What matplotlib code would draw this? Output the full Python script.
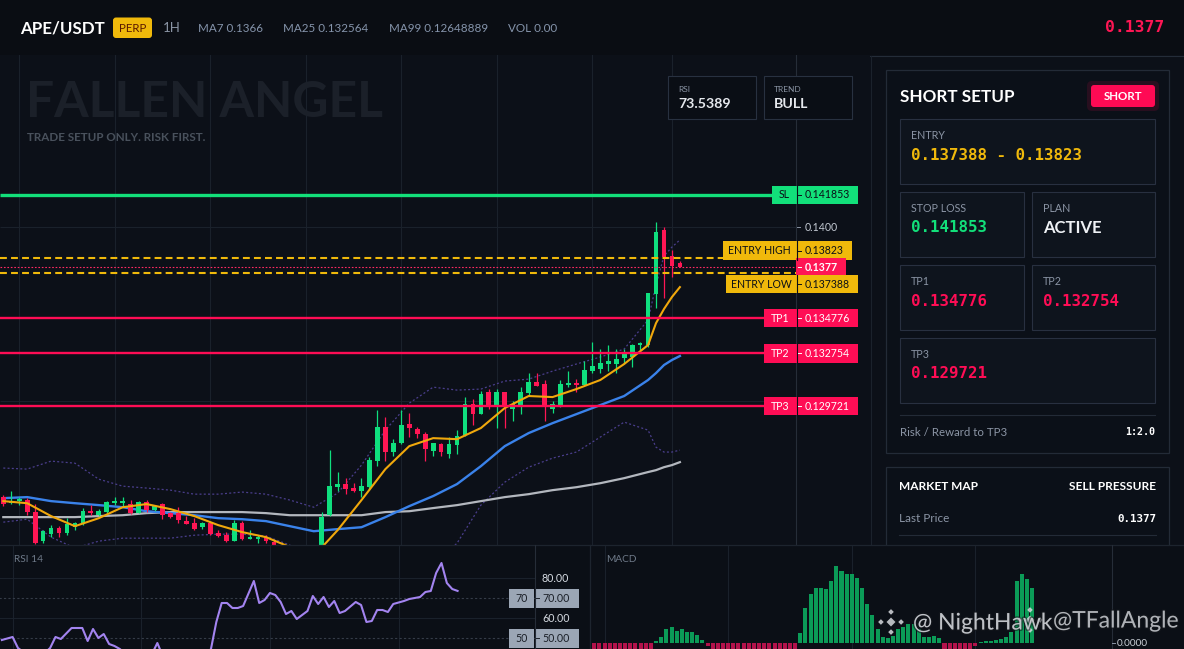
import numpy as np
import matplotlib
matplotlib.use("Agg")
import matplotlib.pyplot as plt
import matplotlib.patheffects as pe
from matplotlib.patches import Rectangle, FancyBboxPatch, RegularPolygon

plt.rcParams["font.family"] = ["Lato", "DejaVu Sans"]
MONO = ["DejaVu Sans Mono"]

# --- Values ---
symbol = "APE/USDT"
timeframe = "1H"
header_stats = ["MA7 0.1366", "MA25 0.132564", "MA99 0.12648889", "VOL 0.00"]
last_price = 0.1377
rsi_now = 73.5389
trend = "BULL"

opens = [0.12449, 0.12414, 0.12426, 0.12432, 0.12363, 0.12196, 0.12236, 0.12271, 0.12242, 0.12276,
         0.12294, 0.12368, 0.12345, 0.12363, 0.12414, 0.12414, 0.12409, 0.12357, 0.12420, 0.12374,
         0.12409, 0.12357, 0.12357, 0.12311, 0.12299, 0.12276, 0.12299, 0.12242, 0.12230, 0.12196,
         0.12299, 0.12207, 0.12207, 0.12219, 0.12190, 0.12133, 0.12087, 0.12052, 0.12098, 0.12064,
         0.12087, 0.12345, 0.12506, 0.12524, 0.12501, 0.12483, 0.12506, 0.12656, 0.12851, 0.12708,
         0.12759, 0.12869, 0.12840, 0.12811, 0.12713, 0.12754, 0.12696, 0.12748, 0.12805, 0.12984,
         0.12926, 0.13053, 0.12966, 0.13053, 0.12955, 0.12978, 0.13047, 0.13110, 0.13099, 0.12955,
         0.12978, 0.13093, 0.13104, 0.13093, 0.13173, 0.13185, 0.13214, 0.13214, 0.13248, 0.13254,
         0.13323, 0.13323, 0.13617, 0.13984, 0.13835, 0.13794]
highs = [0.12460, 0.12483, 0.12449, 0.12443, 0.12409, 0.12259, 0.12288, 0.12282, 0.12328, 0.12305,
         0.12386, 0.12403, 0.12380, 0.12426, 0.12449, 0.12449, 0.12432, 0.12426, 0.12432, 0.12403,
         0.12414, 0.12363, 0.12391, 0.12340, 0.12328, 0.12305, 0.12305, 0.12259, 0.12248, 0.12317,
         0.12311, 0.12259, 0.12230, 0.12230, 0.12202, 0.12144, 0.12110, 0.12133, 0.12116, 0.12156,
         0.12363, 0.12719, 0.12593, 0.12558, 0.12529, 0.12558, 0.12679, 0.12949, 0.12909, 0.12782,
         0.12949, 0.12932, 0.12851, 0.12823, 0.12759, 0.12759, 0.12794, 0.12834, 0.13024, 0.13012,
         0.13058, 0.13070, 0.13070, 0.13053, 0.13001, 0.13081, 0.13162, 0.13162, 0.13122, 0.13001,
         0.13122, 0.13173, 0.13127, 0.13231, 0.13340, 0.13300, 0.13323, 0.13300, 0.13300, 0.13329,
         0.13340, 0.13622, 0.14030, 0.14001, 0.13869, 0.13806]
lows = [0.12397, 0.12409, 0.12403, 0.12345, 0.12179, 0.12184, 0.12219, 0.12219, 0.12230, 0.12259,
        0.12288, 0.12345, 0.12340, 0.12357, 0.12403, 0.12391, 0.12351, 0.12357, 0.12363, 0.12368,
        0.12322, 0.12328, 0.12299, 0.12294, 0.12259, 0.12265, 0.12230, 0.12219, 0.12190, 0.12196,
        0.12202, 0.12207, 0.12184, 0.12184, 0.12110, 0.12058, 0.12029, 0.12029, 0.12041, 0.12047,
        0.12058, 0.12340, 0.12483, 0.12466, 0.12478, 0.12449, 0.12489, 0.12627, 0.12656, 0.12685,
        0.12754, 0.12794, 0.12788, 0.12656, 0.12685, 0.12685, 0.12673, 0.12696, 0.12800, 0.12863,
        0.12926, 0.12955, 0.12846, 0.12846, 0.12886, 0.12926, 0.13030, 0.13087, 0.12886, 0.12932,
        0.12966, 0.13081, 0.13053, 0.13093, 0.13162, 0.13162, 0.13173, 0.13162, 0.13219, 0.13196,
        0.13277, 0.13311, 0.13536, 0.13594, 0.13714, 0.13771]
closes = [0.12409, 0.12426, 0.12437, 0.12363, 0.12184, 0.12253, 0.12271, 0.12242, 0.12294, 0.12299,
          0.12368, 0.12357, 0.12368, 0.12420, 0.12426, 0.12426, 0.12357, 0.12420, 0.12374, 0.12397,
          0.12345, 0.12334, 0.12317, 0.12294, 0.12265, 0.12299, 0.12236, 0.12225, 0.12196, 0.12299,
          0.12207, 0.12219, 0.12219, 0.12196, 0.12133, 0.12087, 0.12052, 0.12098, 0.12064, 0.12116,
          0.12334, 0.12512, 0.12524, 0.12495, 0.12483, 0.12512, 0.12662, 0.12851, 0.12708, 0.12759,
          0.12863, 0.12846, 0.12811, 0.12725, 0.12759, 0.12708, 0.12754, 0.12800, 0.12984, 0.12926,
          0.13041, 0.12966, 0.13053, 0.12972, 0.12984, 0.13053, 0.13110, 0.13087, 0.12978, 0.12984,
          0.13099, 0.13104, 0.13093, 0.13179, 0.13202, 0.13219, 0.13231, 0.13242, 0.13277, 0.13323,
          0.13334, 0.13622, 0.13973, 0.13829, 0.13777, 0.13771]

# moving averages and Bollinger bands, read at these candle indices
ma_idx = [0, 3, 6, 9, 12, 15, 18, 21, 24, 27, 30, 33, 36, 39, 42, 45, 48, 51, 54, 57,
          60, 63, 66, 69, 72, 75, 78, 81, 82, 83, 84, 85]
ma7 = [0.12426, 0.12414, 0.12340, 0.12282, 0.12328, 0.12391, 0.12409, 0.12380, 0.12340, 0.12288,
       0.12248, 0.12219, 0.12162, 0.12110, 0.12259, 0.12432, 0.12610, 0.12742, 0.12788, 0.12782,
       0.12846, 0.12961, 0.13030, 0.13024, 0.13070, 0.13122, 0.13214, 0.13323, 0.13449, 0.13530,
       0.13599, 0.13656]
ma25 = [0.12443, 0.12449, 0.12426, 0.12414, 0.12403, 0.12391, 0.12368, 0.12357, 0.12345, 0.12328,
        0.12322, 0.12311, 0.12282, 0.12253, 0.12265, 0.12276, 0.12334, 0.12397, 0.12455, 0.12524,
        0.12627, 0.12742, 0.12817, 0.12874, 0.12926, 0.12978, 0.13030, 0.13122, 0.13162, 0.13208,
        0.13237, 0.13260]
ma99 = [0.12334, 0.12334, 0.12334, 0.12334, 0.12340, 0.12345, 0.12357, 0.12363, 0.12363, 0.12363,
        0.12363, 0.12357, 0.12345, 0.12345, 0.12345, 0.12345, 0.12363, 0.12368, 0.12386, 0.12403,
        0.12426, 0.12449, 0.12466, 0.12489, 0.12506, 0.12529, 0.12558, 0.12593, 0.12604, 0.12621,
        0.12633, 0.12650]
bb_upper = [0.12616, 0.12610, 0.12656, 0.12644, 0.12552, 0.12512, 0.12501, 0.12489, 0.12466, 0.12466,
            0.12478, 0.12466, 0.12432, 0.12391, 0.12472, 0.12633, 0.12834, 0.12989, 0.13081, 0.13064,
            0.13070, 0.13116, 0.13127, 0.13173, 0.13214, 0.13254, 0.13300, 0.13467, 0.13668, 0.13835,
            0.13886, 0.13927]
bb_lower = [0.12305, 0.12322, 0.12219, 0.12156, 0.12196, 0.12213, 0.12213, 0.12213, 0.12230, 0.12236,
            0.12236, 0.12225, 0.12173, 0.12058, 0.11943, 0.11903, 0.11914, 0.11972, 0.12058, 0.12184,
            0.12403, 0.12535, 0.12621, 0.12673, 0.12708, 0.12794, 0.12880, 0.12834, 0.12736, 0.12708,
            0.12708, 0.12719]

# trade plan
stop_loss = 0.141853
entry_high = 0.13823
entry_low = 0.137388
tp1 = 0.134776
tp2 = 0.132754
tp3 = 0.129721
risk_reward = "1:2.0"
plan_state = "ACTIVE"
price_ticks = [0.13, 0.14]

# RSI 14 (bar index, value)
rsi_bars = [0, 2, 3, 5, 7, 9, 10, 11, 13, 15, 16, 17, 18, 19, 20, 21, 22, 24, 26, 28,
            29, 30, 32, 35, 37, 39, 40, 41, 42, 43, 44, 45, 47, 48, 49, 50, 51, 52, 53, 54,
            55, 57, 58, 59, 60, 61, 62, 63, 64, 66, 67, 68, 69, 70, 71, 72, 73, 75, 76, 78,
            79, 80, 81, 82, 83, 84, 85]
rsi_vals = [49, 50.5, 45, 41, 40, 45, 50.5, 49.5, 55, 55, 48.5, 54.5, 50, 52, 47, 46, 44.5, 40, 38, 42,
            47.5, 41, 37, 34, 38, 44.5, 58, 67.5, 67.5, 65, 65, 66, 78.5, 67.5, 69, 72.5, 71.5, 68, 62, 63.5,
            59.5, 63.5, 71, 67, 70.5, 65.5, 68.5, 62.5, 63.5, 68, 66.5, 58, 58.5, 64, 64, 63, 67, 68.5, 69.5, 70.5,
            73, 73.5, 82.5, 87.5, 77.5, 74.5, 73.54]
rsi_levels = [80, 70, 60, 50]

# MACD histogram, bars -1 .. 85
macd_hist = [0.000028,
             -0.000020, -0.000022, -0.000024, -0.000022, -0.000020, -0.000018, -0.000018, -0.000016,
             -0.000016, -0.000014, -0.000014, -0.000012,
             0.0000046, 0.0000126, 0.0000274, 0.0000314, 0.0000246, 0.0000274, 0.0000226, 0.0000226,
             0.000016, 0.000006,
             -0.0000054,
             -0.000012, -0.000018, -0.000024, -0.000030, -0.000034, -0.000036, -0.000036, -0.000034,
             -0.000032, -0.000030, -0.000028, -0.000026, -0.000024, -0.000020, -0.000018, -0.000016,
             -0.000014,
             0.000020, 0.000070, 0.000098, 0.000110, 0.000110, 0.000108, 0.000124, 0.000154, 0.000144,
             0.000138, 0.000138, 0.000130, 0.000110, 0.000078, 0.000056, 0.000028, 0.000012, 0.000010,
             0.000014, 0.000028, 0.000032, 0.000038, 0.000038, 0.000028, 0.000012, 0.000012, 0.000014,
             0.000010,
             -0.000014, -0.000018, -0.000020, -0.000018, -0.000016, -0.000014,
             -0.0000054,
             0.0000026, 0.000004, 0.0000046, 0.000006, 0.0000086, 0.0000114, 0.0000226, 0.000124,
             0.000138, 0.000129, 0.000111]
macd_bars = list(range(-1, len(macd_hist) - 1))

# --- Colours ---
BG = "#0c1018"
HEADER = "#0a0d13"
PANEL = "#0b0f16"
GRID = "#1a212b"
LINE = "#242c38"
GREEN = "#0fdf7e"
RED = "#ff1654"
SL_GREEN = "#12e07a"
TP_RED = "#ff0d55"
YELLOW = "#f0b90b"
DARK_TXT = "#0b0f17"
GRAY_TXT = "#8b95a5"

# --- Layout (pixels of the 1184x649 screenshot) ---
W, H = 1184, 649
fig = plt.figure(figsize=(W / 100, H / 100), dpi=100)
fig.patch.set_facecolor(BG)


def px_axes(x0, y0, x1, y1, z):
    a = fig.add_axes([x0 / W, 1 - y1 / H, (x1 - x0) / W, (y1 - y0) / H], zorder=z)
    a.set_xticks([])
    a.set_yticks([])
    for s in a.spines.values():
        s.set_visible(False)
    return a


def pixel_layer(z):
    a = fig.add_axes([0, 0, 1, 1], zorder=z)
    a.set_xlim(0, W)
    a.set_ylim(H, 0)
    a.axis("off")
    return a


ui_bg = pixel_layer(0)
ui = pixel_layer(1.5)
ui_top = pixel_layer(3)


def to_px(a, x, y):
    return ui.transData.inverted().transform(a.transData.transform((x, y)))


def rect(layer, x0, y0, x1, y1, fc, ec="none", lw=0.8, z=1, r=0, alpha=1):
    if r:
        p = FancyBboxPatch((x0, y0), x1 - x0, y1 - y0, boxstyle=f"round,pad=0,rounding_size={r}",
                           fc=fc, ec=ec, lw=lw, zorder=z, alpha=alpha)
    else:
        p = Rectangle((x0, y0), x1 - x0, y1 - y0, fc=fc, ec=ec, lw=lw, zorder=z, alpha=alpha)
    layer.add_patch(p)
    return p


# --- Header ---
rect(ui_bg, 0, 0, W, 55, HEADER)
ui_bg.plot([0, W], [55.5, 55.5], color=LINE, lw=0.8)
ui.text(20, 28, symbol, fontsize=12.2, fontweight="bold", color="white", va="center")
rect(ui, 113, 17.5, 152, 38, YELLOW, r=3)
ui.text(132.5, 28, "PERP", fontsize=8.3, color="#5a1800", ha="center", va="center")
ui.text(163, 28, timeframe, fontsize=9.5, color=GRAY_TXT, va="center")
for x, s in zip([198, 283, 389, 508], header_stats):
    ui.text(x, 28, s, fontsize=8.4, color="#8594ab", va="center")
ui.text(1164, 28, f"{last_price}", fontsize=11.8, fontweight="bold", family=MONO,
        color=RED, ha="right", va="center")

# --- Main price chart ---
CANDLE_X0, CANDLE_STEP = 3.3, 7.96


def px_to_i(x):
    return (x - CANDLE_X0) / CANDLE_STEP


ax = px_axes(0, 55, 870, 545, 1)
ax.set_facecolor(BG)
ax.set_xlim(px_to_i(0), px_to_i(870))
ax.set_ylim(0.121738, 0.149899)

grid_idx = [2, 14, 26, 38, 50, 62, 74, 84]
ax.vlines(grid_idx, 0.1, 0.2, colors=GRID, lw=0.8, zorder=0.5)
ax.hlines(price_ticks, px_to_i(0), px_to_i(796), colors=GRID, lw=0.8, zorder=0.5)
ax.axvline(px_to_i(796.5), color="#262d38", lw=0.8, zorder=0.6)

# watermark
ax.text(26, 102.5, "FALLEN ANGEL", transform=ui.transData, fontsize=35.8, fontweight="bold",
        color="#1b2029", va="center", zorder=0.7, clip_on=False)
ax.text(27, 137.5, "TRADE SETUP ONLY. RISK FIRST.", transform=ui.transData, fontsize=8.4,
        fontweight="bold", color="#49515c", va="center", zorder=0.7, clip_on=False)

# bands and moving averages
ax.plot(ma_idx, bb_upper, color="#4a3e8c", lw=0.9, ls=(0, (1.6, 1.8)), zorder=2)
ax.plot(ma_idx, bb_lower, color="#4a3e8c", lw=0.9, ls=(0, (1.6, 1.8)), zorder=2)
ax.plot(ma_idx, ma99, color="#b3b7be", lw=1.6, zorder=3)
ax.plot(ma_idx, ma25, color="#3a82ea", lw=1.7, zorder=3)
ax.plot(ma_idx, ma7, color="#f0a80c", lw=1.5, zorder=6)

# candles
o = np.array(opens)
h = np.array(highs)
l = np.array(lows)
c = np.array(closes)
idx = np.arange(len(o))
col = np.where(c >= o, GREEN, RED)
ax.vlines(idx, l, h, colors=col, lw=0.9, zorder=4)
ax.bar(idx, np.maximum(np.abs(c - o), 0.0001), bottom=np.minimum(o, c), width=0.6,
       color=col, lw=0, zorder=5)

# plan levels
ax.hlines(stop_loss, px_to_i(0), px_to_i(772), colors=SL_GREEN, lw=2.4, zorder=7)
for lv in (tp1, tp2, tp3):
    ax.hlines(lv, px_to_i(0), px_to_i(764), colors=TP_RED, lw=1.7, zorder=7)
for lv in (entry_high, entry_low):
    ax.hlines(lv, px_to_i(0), px_to_i(796), colors=YELLOW, lw=1.5, linestyles=(0, (3.3, 2.0)), zorder=7)
ax.hlines(last_price, px_to_i(0), px_to_i(796), colors="#ff2a63", lw=0.8,
          linestyles=(0, (1.5, 1.6)), zorder=7)

# level tags on the price scale (label, value, fill, text colour, left, right, shift)
tags = [
    ("SL", stop_loss, SL_GREEN, DARK_TXT, 772, 858, 0),
    ("ENTRY HIGH", entry_high, YELLOW, DARK_TXT, 723, 852, -7.5),
    (None, last_price, RED, "white", 796, 846, 0),
    ("ENTRY LOW", entry_low, YELLOW, DARK_TXT, 726, 858, 11.5),
    ("TP1", tp1, TP_RED, "white", 764, 858, 0),
    ("TP2", tp2, TP_RED, "white", 764, 858, 0),
    ("TP3", tp3, TP_RED, "white", 764, 858, 0),
]
tag_centres = [to_px(ax, 0, t[1])[1] + t[6] for t in tags]

# price axis labels (the ones under a tag are hidden, as on the screen)
for p in price_ticks:
    yp = to_px(ax, 0, p)[1]
    if 60 < yp < 540 and all(abs(yp - yc) > 10 for yc in tag_centres):
        ui.text(805, yp, f"{p:.4f}", fontsize=7.6, color="#c3c9d2", va="center")
        ui.plot([797, 800], [yp, yp], color="#8b95a5", lw=0.7)

for (label, value, fc, tc, x0, x1, _), yc in zip(tags, tag_centres):
    rect(ui, x0, yc - 9.3, x1, yc + 9.3, fc, z=5)
    if label:
        ui.plot([796.5, 796.5], [yc - 9.3, yc + 9.3], color=DARK_TXT, lw=0.8, zorder=6)
        ui.text((x0 + 796) / 2, yc, label, fontsize=7.6, color=tc, ha="center", va="center", zorder=6)
    ui.plot([797.5, 800.5], [yc, yc], color=tc, lw=0.7, zorder=6)
    ui.text(805, yc, f"{value}", fontsize=7.6, color=tc, va="center", zorder=6,
            fontweight="normal" if label else "bold")

# RSI / TREND boxes
for x0, lab, val in [(668, "RSI", f"{rsi_now}"), (764, "TREND", trend)]:
    rect(ui, x0, 76, x0 + 88, 119, "#0a0e15", ec="#283140", lw=0.8)
    ui.text(x0 + 10, 89.5, lab, fontsize=6, color=GRAY_TXT, va="center")
    ui.text(x0 + 10, 104, val, fontsize=10.2, fontweight="bold", color="#e6e9ee", va="center")

ui.plot([870.5, 870.5], [56, 545], color="#1b222c", lw=0.8)

# --- Right panel: trade card ---
rect(ui, 886, 70, 1169, 453, "#0b1018", ec="#232b37", lw=0.9)
ui.text(900, 96.5, "SHORT SETUP", fontsize=12.3, fontweight="bold", color="white", va="center")
rect(ui, 1087, 81, 1159, 111, "#ff0a54", r=5, alpha=0.12)
rect(ui, 1091, 85, 1155, 107, "#ff0a54", r=3)
ui.text(1123, 96, "SHORT", fontsize=8.3, fontweight="bold", color="white", ha="center", va="center")

cells = [
    (900, 119, 1155, 184, "ENTRY", f"{entry_low} - {entry_high}", YELLOW, True),
    (900, 192, 1024, 257, "STOP LOSS", f"{stop_loss}", SL_GREEN, True),
    (1032, 192, 1155, 257, "PLAN", plan_state, "#eef1f5", False),
    (900, 265, 1024, 330, "TP1", f"{tp1}", TP_RED, True),
    (1032, 265, 1155, 330, "TP2", f"{tp2}", TP_RED, True),
    (900, 338, 1155, 403, "TP3", f"{tp3}", TP_RED, True),
]
for x0, y0, x1, y1, lab, val, vc, mono in cells:
    rect(ui, x0, y0, x1, y1, "#0e141d", ec="#283040", lw=0.8)
    ui.text(x0 + 11, y0 + 16.5, lab, fontsize=7.7, color=GRAY_TXT, va="center")
    if mono:
        ui.text(x0 + 11, y0 + 36, val, fontsize=11.3, fontweight="bold", family=MONO, color=vc, va="center")
    else:
        ui.text(x0 + 11, y0 + 36, val, fontsize=12, fontweight="bold", color=vc, va="center")

ui.plot([900, 1155], [414.5, 414.5], color="#232b37", lw=0.8)
ui.text(900, 432, "Risk / Reward to TP3", fontsize=8.3, color=GRAY_TXT, va="center")
ui.text(1155, 432, risk_reward, fontsize=7.2, fontweight="bold", family=MONO, color="white",
        ha="right", va="center")

rect(ui, 886, 467, 1169, 600, "#0b1018", ec="#232b37", lw=0.9)
ui.text(899, 487, "MARKET MAP", fontsize=8.6, fontweight="bold", color="white", va="center")
ui.text(1156, 487, "SELL PRESSURE", fontsize=8.6, fontweight="bold", color="white", ha="right", va="center")
ui.text(899, 519, "Last Price", fontsize=8.5, color=GRAY_TXT, va="center")
ui.text(1156, 519, f"{last_price}", fontsize=7.8, fontweight="bold", family=MONO, color="white",
        ha="right", va="center")
ui.plot([899, 1156], [534.5, 534.5], color="#232b37", lw=0.8)

# --- RSI panel ---
ax_rsi = px_axes(0, 545, 590, 649, 2)
ax_rsi.set_facecolor(PANEL)
ax_rsi.set_xlim(-0.35, 109.7)
ax_rsi.set_ylim(44.5, 96.5)
rsi_edge = 99.4
ax_rsi.vlines([2, 26, 50, 74], 0, 100, colors=GRID, lw=0.8, zorder=0.5)
ax_rsi.hlines([80, 60], -1, rsi_edge, colors=GRID, lw=0.8, zorder=0.5)
ax_rsi.hlines([70, 50], -1, rsi_edge, colors="#353c48", lw=0.8, linestyles=(0, (2, 2)), zorder=0.5)
ax_rsi.plot(rsi_bars, rsi_vals, color="#a384f0", lw=1.5, zorder=3)

# --- MACD panel ---
ax_macd = px_axes(590, 545, 1184, 649, 2)
ax_macd.set_facecolor(PANEL)
ax_macd.set_xlim(-0.83, 114.5)
ax_macd.set_ylim(-0.000012, 0.000196)
ax_macd.vlines([2, 26, 50, 74], -1, 1, colors=GRID, lw=0.8, zorder=0.5)
hist = np.array(macd_hist)
ax_macd.bar(macd_bars, hist, width=0.78, color=np.where(hist >= 0, "#0b9b57", "#b3124b"), lw=0, zorder=3)

# --- Sub-panel frame and labels ---
ui_top.plot([0, W], [545, 545], color="#1d242e", lw=0.9)
ui_top.plot([590, 590], [545, H], color="#1d242e", lw=0.9)
ui_top.plot([534.5, 534.5], [545, H], color="#262d38", lw=0.8)
ui_top.plot([1112, 1112], [545, H], color="#262d38", lw=0.8)
ui_top.text(14, 559.5, "RSI 14", fontsize=7.3, color="#6f7a89", va="center")
ui_top.text(606, 559.5, "MACD", fontsize=7.3, color="#6f7a89", va="center")
for lv in rsi_levels:
    yp = to_px(ax_rsi, 0, lv)[1]
    if lv in (70, 50):
        rect(ui_top, 509, yp - 9.5, 534, yp + 9.5, "#9ba6b5")
        rect(ui_top, 535, yp - 9.5, 579, yp + 9.5, "#9ba6b5")
        ui_top.text(521.5, yp, f"{lv}", fontsize=7.7, color="#1a1f27", ha="center", va="center")
        ui_top.plot([535.5, 538.5], [yp, yp], color="#1a1f27", lw=0.7)
        ui_top.text(542, yp, f"{lv:.2f}", fontsize=7.7, color="#1a1f27", va="center")
    else:
        ui_top.text(542, yp, f"{lv:.2f}", fontsize=7.7, color="#d6dbe2", va="center")
y0m = to_px(ax_macd, 0, 0)[1]
ui_top.plot([1112, 1115], [y0m, y0m], color="#8b95a5", lw=0.7)
ui_top.text(1117, y0m, "0.0000", fontsize=7.2, color="#c8cdd4", va="center")


# --- Exchange watermark ---
def logo(layer, cx, cy, s):
    kw = dict(fc="#d5d8dd", ec="none", alpha=0.85, zorder=8)
    layer.add_patch(RegularPolygon((cx, cy), 4, radius=s * 0.32, orientation=0, **kw))
    for dx, dy in [(-0.72, 0), (0.72, 0), (0, -0.72), (0, 0.72)]:
        layer.add_patch(RegularPolygon((cx + dx * s, cy + dy * s), 4, radius=s * 0.2, orientation=0, **kw))


stroke = [pe.withStroke(linewidth=2, foreground="#15181d", alpha=0.6)]
logo(ui_top, 891, 622, 14)
logo(ui_top, 1030, 620, 14)
ui_top.text(913, 623, "@ NightHawk", fontsize=16.5, color="#d5d8dd", alpha=0.85, va="center",
            path_effects=stroke, zorder=9)
ui_top.text(1053, 621, "@TFallAngle", fontsize=16.5, color="#d5d8dd", alpha=0.75, va="center",
            path_effects=stroke, zorder=9)

fig.savefig("out.png", dpi=100, facecolor=BG)
